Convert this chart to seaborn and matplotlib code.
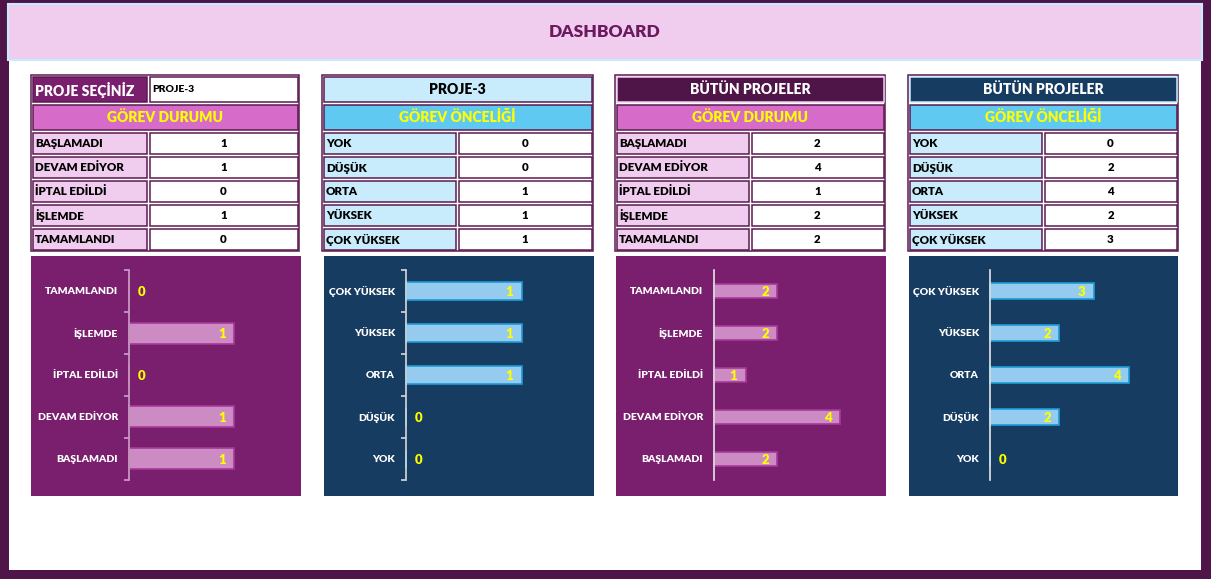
import pandas as pd
import seaborn as sns
import matplotlib.pyplot as plt
from matplotlib.patches import Rectangle

# data
durum_labels = ['BAŞLAMADI', 'DEVAM EDİYOR', 'İPTAL EDİLDİ', 'İŞLEMDE', 'TAMAMLANDI']
oncelik_labels = ['YOK', 'DÜŞÜK', 'ORTA', 'YÜKSEK', 'ÇOK YÜKSEK']
proje3_durum = [1, 1, 0, 1, 0]
proje3_oncelik = [0, 0, 1, 1, 1]
tum_durum = [2, 4, 1, 2, 2]
tum_oncelik = [0, 2, 4, 2, 3]
secili_proje = 'PROJE-3'

W, H = 1211, 579
DARK = '#4F1548'
PURPLE = '#7A1F6E'
PINK = '#F0CDEE'
PINK_HEAD = '#D76BC9'
LBLUE = '#C8ECFB'
BLUE_HEAD = '#5FC9F1'
NAVY = '#173C61'
LINE = '#5B1A50'
YELLOW = '#FFFF00'
WEIGHT = 'heavy'

sns.set_style('white')
plt.rcParams['font.family'] = ['Lato', 'DejaVu Sans']

fig = plt.figure(figsize=(W / 100, H / 100), dpi=100, facecolor=DARK)
bg = fig.add_axes([0, 0, 1, 1])
bg.set_xlim(0, W)
bg.set_ylim(H, 0)
bg.axis('off')


def box(x0, y0, x1, y1, fc, ec='none', lw=1.0):
    bg.add_patch(Rectangle((x0, y0), x1 - x0, y1 - y0, facecolor=fc, edgecolor=ec, linewidth=lw))


# white page + header band
box(9, 3, 1201, 570, 'white')
box(8, 4, 1202, 60, PINK, ec=LBLUE, lw=1.5)
bg.text(605, 32, 'DASHBOARD', ha='center', va='center', fontsize=12.5,
        fontweight=WEIGHT, color='#6B1A5E')


def cell(x0, y0, x1, y1, fc, text=None, tc='black', size=8, ha='left', ec=LINE):
    box(x0 + 1.5, y0 + 1.5, x1 - 1.5, y1 - 1.5, fc, ec=ec, lw=1.1)
    if text is not None:
        tx = x0 + 4 if ha == 'left' else (x0 + x1) / 2
        bg.text(tx, (y0 + y1) / 2 + 0.5, text, ha=ha, va='center', fontsize=size,
                fontweight=WEIGHT, color=tc)


def table(x0, xm, x1, sub_text, sub_fc, label_fc, labels, values, outer_ec=LINE):
    box(x0, 75, x1, 251, 'white', ec=outer_ec, lw=1.1)
    cell(x0, 103, x1, 131, sub_fc, sub_text, YELLOW, 10, 'center')
    for k, (lab, val) in enumerate(zip(labels, values)):
        y0 = 131 + 24 * k
        cell(x0, y0, xm, y0 + 24, label_fc, lab, 'black', 8.3)
        cell(xm, y0, x1, y0 + 24, 'white', str(val), 'black', 8.3, 'center')


# table 1
table(31, 148, 299, 'GÖREV DURUMU', PINK_HEAD, PINK, durum_labels, proje3_durum)
cell(31, 75, 148, 103, PURPLE, 'PROJE SEÇİNİZ', 'white', 10)
cell(148, 75, 299, 103, 'white', secili_proje, 'black', 7.5)
# table 2
table(322, 457, 593, 'GÖREV ÖNCELİĞİ', BLUE_HEAD, LBLUE, oncelik_labels, proje3_oncelik)
cell(322, 75, 593, 103, LBLUE, secili_proje, 'black', 10, 'center')
# table 3
table(615, 750, 885, 'GÖREV DURUMU', PINK_HEAD, PINK, durum_labels, tum_durum)
cell(615, 75, 885, 103, DARK, 'BÜTÜN PROJELER', 'white', 10, 'center', ec=PINK)
# table 4
table(908, 1043, 1178, 'GÖREV ÖNCELİĞİ', BLUE_HEAD, LBLUE, oncelik_labels, tum_oncelik)
cell(908, 75, 1178, 103, NAVY, 'BÜTÜN PROJELER', 'white', 10, 'center', ec=LBLUE)


# charts: (left, right, axis x px, px per unit, bar width, panel, bar fc, bar ec, spine, ticks)
charts = [
    (31, 301, 129, 105.0, 0.50, PURPLE, '#CC8CC3', '#A8399B', '#C9A2C4', True,
     durum_labels, proje3_durum),
    (324, 594, 406, 115.7, 0.42, NAVY, '#95CBEF', '#1D9BD8', '#D9D9D9', True,
     oncelik_labels, proje3_oncelik),
    (616, 886, 714, 31.6, 0.35, PURPLE, '#CC8CC3', '#A8399B', '#E6E6E6', False,
     durum_labels, tum_durum),
    (909, 1178, 990, 34.7, 0.36, NAVY, '#95CBEF', '#1D9BD8', '#E6E6E6', False,
     oncelik_labels, tum_oncelik),
]

top, bottom = 256, 496
for L, R, x0, s, bw, pc, fc, ec, sc, ticks, labels, vals in charts:
    ax = fig.add_axes([L / W, 1 - bottom / H, (R - L) / W, (bottom - top) / H])
    ax.set_facecolor(pc)
    df = pd.DataFrame({'Kategori': labels, 'Sayi': vals})
    order = list(reversed(labels))
    sns.barplot(data=df, x='Sayi', y='Kategori', order=order, color=fc,
                saturation=1, width=bw, edgecolor=ec, linewidth=1.2, ax=ax)
    ax.set_xlim((L - x0) / s, (R - x0) / s)
    ax.set_ylim((bottom - 291) / 42, (top - 291) / 42)
    for sp in ['top', 'right', 'bottom']:
        ax.spines[sp].set_visible(False)
    ax.spines['left'].set_position(('data', 0))
    ax.spines['left'].set_bounds(-0.5, 4.5)
    ax.spines['left'].set_color(sc)
    ax.spines['left'].set_linewidth(1.2)
    ax.set_xticks([])
    ax.set_xlabel('')
    ax.set_ylabel('')
    if ticks:
        ax.set_yticks([i - 0.5 for i in range(6)], minor=True)
        ax.tick_params(axis='y', which='minor', length=3.5, width=1.2, color=sc, left=True)
        ax.tick_params(axis='y', which='major', length=0, pad=8)
    else:
        ax.tick_params(axis='y', which='both', length=0, pad=8)
    ax.tick_params(axis='y', labelsize=7.5, labelcolor='white')
    for t in ax.get_yticklabels():
        t.set_fontweight(WEIGHT)
    for i, v in enumerate(reversed(vals)):
        ax.annotate(str(v), xy=(v, i), xytext=(-6 if v else 6, -0.5),
                    textcoords='offset points', ha='right' if v else 'left',
                    va='center', color=YELLOW, fontweight=WEIGHT, fontsize=9.5)

fig.savefig('out.png', dpi=100, facecolor=DARK)
